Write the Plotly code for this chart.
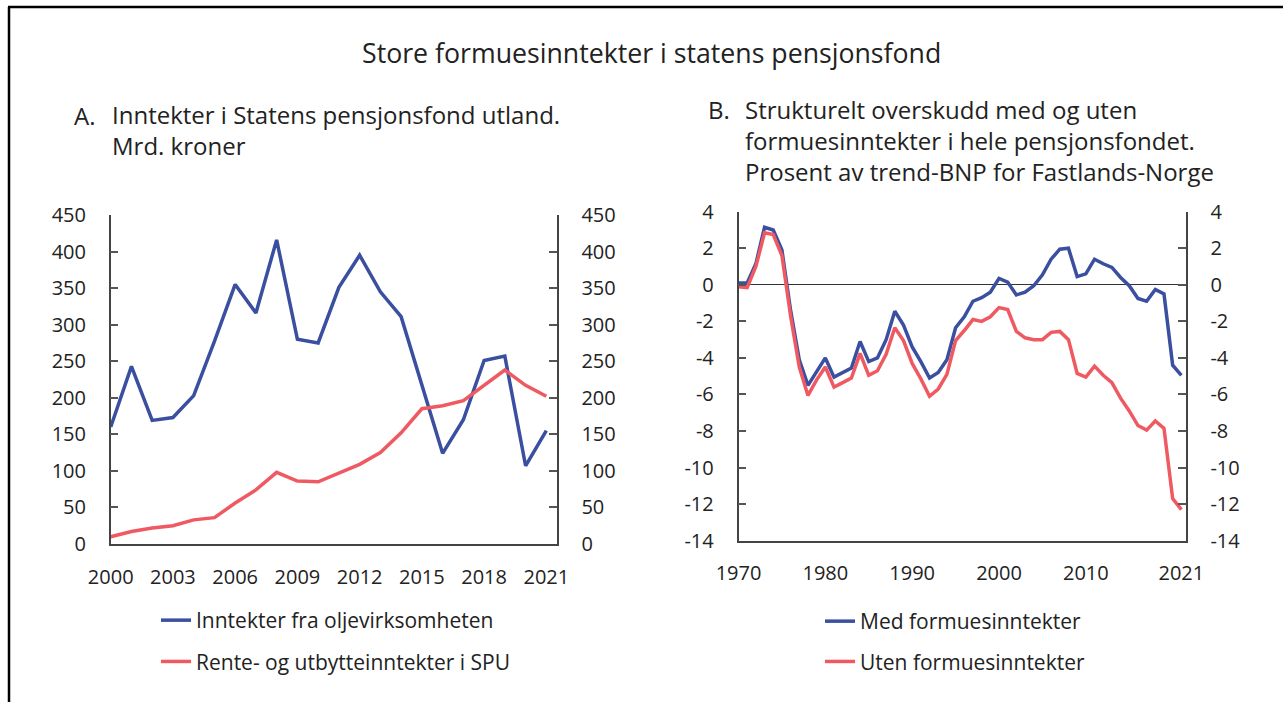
import plotly.graph_objects as go

# panel A: SPU income, bn NOK
years_a = list(range(2000, 2022))
olje = [160, 243, 169, 173, 203, 277, 355, 316, 416, 280, 275,
        351, 395, 345, 311, 217, 124, 170, 251, 257, 107, 155]
rente = [10, 17, 22, 25, 33, 36, 56, 74, 98, 86, 85,
         97, 109, 125, 152, 185, 189, 196, 217, 238, 217, 202]

# panel B: structural surplus, % of trend GDP mainland
years_b = list(range(1970, 2022))
med = [0.1, 0.1, 1.15, 3.15, 3.0, 1.9, -1.4, -4.1, -5.5, -4.75,
       -4.0, -5.05, -4.8, -4.55, -3.1, -4.2, -4.0, -3.0, -1.45, -2.2,
       -3.4, -4.2, -5.1, -4.8, -4.1, -2.35, -1.75, -0.9, -0.7, -0.4,
       0.35, 0.15, -0.55, -0.4, -0.05, 0.55, 1.4, 1.95, 2.0, 0.45,
       0.6, 1.4, 1.15, 0.95, 0.4, -0.05, -0.75, -0.9, -0.25, -0.5,
       -4.4, -4.95]
uten = [-0.1, -0.15, 1.0, 2.85, 2.75, 1.6, -1.7, -4.5, -6.05, -5.2,
        -4.5, -5.6, -5.35, -5.1, -3.75, -4.95, -4.7, -3.8, -2.35, -3.05,
        -4.3, -5.15, -6.1, -5.7, -4.9, -3.05, -2.5, -1.9, -2.0, -1.75,
        -1.25, -1.35, -2.55, -2.9, -3.0, -3.0, -2.6, -2.55, -3.0, -4.85,
        -5.05, -4.45, -4.95, -5.35, -6.2, -6.9, -7.7, -7.95, -7.45, -7.85,
        -11.7, -12.3]

ticks_a_x = [2000, 2003, 2006, 2009, 2012, 2015, 2018, 2021]
ticks_a_y = list(range(0, 451, 50))
ticks_b_x = [1970, 1980, 1990, 2000, 2010, 2021]
ticks_b_y = list(range(-14, 5, 2))

BLUE = "#3a4f9f"
RED = "#ef5a62"
FONT = "Open Sans"
W, H = 1283, 702

fig = go.Figure()
fig.add_trace(go.Scatter(x=years_a, y=olje, name="Inntekter fra oljevirksomheten",
                         line=dict(color=BLUE, width=3.5), legendgroup="a1", legend="legend"))
fig.add_trace(go.Scatter(x=years_a, y=rente, name="Rente- og utbytteinntekter i SPU", yaxis="y3",
                         line=dict(color=RED, width=3.5), legendgroup="a2", legend="legend"))
fig.add_trace(go.Scatter(x=years_b, y=med, name="Med formuesinntekter", xaxis="x2", yaxis="y2",
                         line=dict(color=BLUE, width=3.5), legendgroup="b1", legend="legend2"))
fig.add_trace(go.Scatter(x=years_b, y=uten, name="Uten formuesinntekter", xaxis="x2", yaxis="y4",
                         line=dict(color=RED, width=3.5), legendgroup="b2", legend="legend2"))

ax_line = dict(showline=True, linecolor="#444", linewidth=1.5, showgrid=False, zeroline=False)
ytick = dict(ticks="inside", ticklen=8, tickcolor="#555", tickwidth=1.5,
             tickfont=dict(size=20, color="#222"), ticklabelstandoff=19)
xtick = dict(ticks="", tickfont=dict(size=20, color="#222"), ticklabelstandoff=14)

dom_a_x = [110.7 / W, 556.7 / W]
dom_a_y = [1 - 544 / H, 1 - 215 / H]
dom_b_x = [738.5 / W, 1185.7 / W]
dom_b_y = [1 - 540.7 / H, 1 - 211.7 / H]

fig.update_layout(
    template="none",
    width=W, height=H,
    margin=dict(l=0, r=0, t=0, b=0),
    paper_bgcolor="white", plot_bgcolor="white",
    font=dict(family=FONT, color="#222"),
    xaxis=dict(domain=dom_a_x, range=[2000, 2021.5], tickvals=ticks_a_x, anchor="y", **ax_line, **xtick),
    yaxis=dict(domain=dom_a_y, range=[0, 450], tickvals=ticks_a_y, anchor="x", **ax_line, **ytick),
    yaxis3=dict(range=[0, 450], tickvals=ticks_a_y, overlaying="y", side="right", anchor="x",
                **ax_line, **ytick),
    xaxis2=dict(domain=dom_b_x, range=[1970, 2021.5], tickvals=ticks_b_x, anchor="y2", **ax_line, **xtick),
    yaxis2=dict(domain=dom_b_y, range=[-14, 4], tickvals=ticks_b_y, ticktext=[str(v) for v in ticks_b_y],
                anchor="x2", **ax_line, **ytick),
    yaxis4=dict(range=[-14, 4], tickvals=ticks_b_y, ticktext=[str(v) for v in ticks_b_y],
                overlaying="y2", side="right", anchor="x2", **ax_line, **ytick),
    legend=dict(x=156 / W, y=1 - 600 / H, xanchor="left", yanchor="top", traceorder="grouped",
                tracegroupgap=11, font=dict(size=21, color="#222"), bgcolor="rgba(0,0,0,0)"),
    legend2=dict(x=820 / W, y=1 - 601 / H, xanchor="left", yanchor="top", traceorder="grouped",
                 tracegroupgap=10, font=dict(size=21, color="#222"), bgcolor="rgba(0,0,0,0)"),
)
fig.update_yaxes(autorange=False)
fig.update_layout(yaxis2_zeroline=True, yaxis2_zerolinecolor="#333", yaxis2_zerolinewidth=1.2)

# frame
fig.add_shape(type="line", xref="paper", yref="paper", x0=8 / W, x1=1, y0=1 - 7 / H, y1=1 - 7 / H,
              line=dict(color="black", width=2.5))
fig.add_shape(type="line", xref="paper", yref="paper", x0=9 / W, x1=9 / W, y0=0, y1=1 - 7 / H,
              line=dict(color="black", width=2.5))

# titles
def note(x, y, text, size=24, anchor="left"):
    fig.add_annotation(x=x / W, y=1 - y / H, xref="paper", yref="paper", text=text, showarrow=False,
                       xanchor=anchor, yanchor="middle", align="left",
                       font=dict(family=FONT, size=size, color="#222"))

note(651, 52, "Store formuesinntekter i statens pensjonsfond", size=26.7, anchor="center")
note(72, 115, "A.")
note(110, 130, "Inntekter i Statens pensjonsfond utland.<br>Mrd. kroner")
note(706, 110, "B.")
note(743, 140, "Strukturelt overskudd med og uten<br>formuesinntekter i hele pensjonsfondet.<br>"
               "Prosent av trend-BNP for Fastlands-Norge")

fig.write_html("out.html", config={"displayModeBar": False},
               post_script="document.body.style.margin='0';")
